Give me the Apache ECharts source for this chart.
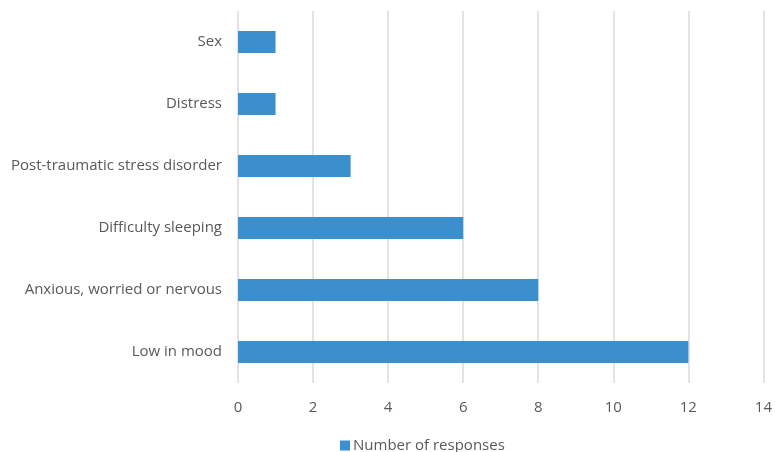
<!DOCTYPE html>
<html>
<head>
<meta charset="utf-8">
<script src="https://cdn.jsdelivr.net/npm/echarts@6/dist/echarts.min.js"></script>
<style>
  html, body { margin: 0; padding: 0; background: #fff; }
  #main { width: 775px; height: 452px; }
</style>
</head>
<body>
<div id="main"></div>
<script>
// categories bottom-to-top (ECharts draws first category at the bottom)
var categories = ['Low in mood', 'Anxious, worried or nervous', 'Difficulty sleeping',
                  'Post-traumatic stress disorder', 'Distress', 'Sex'];
var responses = [12, 8, 6, 3, 1, 1];
var seriesName = 'Number of responses';

var textColor = '#595959';
var fontFam = '"Open Sans", "Liberation Sans", sans-serif';

var option = {
    backgroundColor: '#fff',
    animation: false,
    textStyle: { fontFamily: fontFam },
    grid: {
        left: 238,
        right: 9,
        top: 11,
        bottom: 69,
        containLabel: false
    },
    legend: {
        data: [seriesName],
        top: 433,
        left: 335,
        itemWidth: 10,
        itemHeight: 10,
        itemGap: 4,
        icon: 'rect',
        textStyle: { color: textColor, fontSize: 15, fontFamily: fontFam, padding: [0, 0, 0, -2] }
    },
    xAxis: {
        type: 'value',
        min: 0,
        max: 14,
        interval: 2,
        axisLine: { show: false },
        axisTick: { show: false },
        axisLabel: { color: textColor, fontSize: 15, margin: 17, fontFamily: fontFam },
        splitLine: { lineStyle: { color: '#d9d9e1', width: 1.5 } }
    },
    yAxis: {
        type: 'category',
        data: categories,
        axisLine: { show: false },
        axisTick: { show: false },
        axisLabel: { color: textColor, fontSize: 15, margin: 16, fontFamily: fontFam }
    },
    series: [
        {
            name: seriesName,
            type: 'bar',
            data: responses,
            barWidth: 22,
            itemStyle: { color: '#3a8fcc' }
        }
    ]
};

var myChart = echarts.init(document.getElementById('main'));
myChart.setOption(option);
</script>
</body>
</html>
